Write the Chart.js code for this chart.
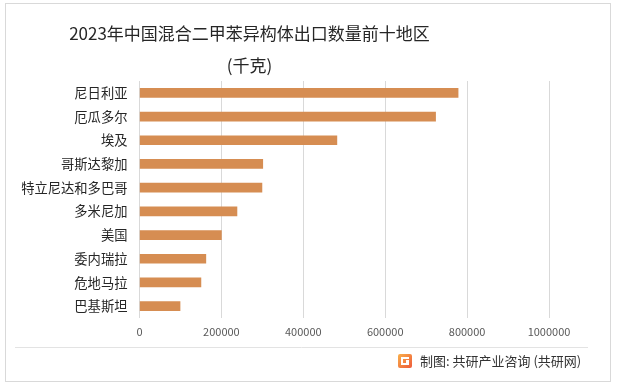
<!DOCTYPE html>
<html>
<head>
<meta charset="utf-8">
<script src="https://cdn.jsdelivr.net/npm/chart.js@4"></script>
<style>
  html, body { margin: 0; padding: 0; background: #fff; }
  #wrap { position: relative; width: 618px; height: 387px; }
</style>
</head>
<body>
<div id="wrap"><canvas id="myChart" width="618" height="387"></canvas></div>
<script>
const regions = ['尼日利亚', '厄瓜多尔', '埃及', '哥斯达黎加', '特立尼达和多巴哥', '多米尼加', '美国', '委内瑞拉', '危地马拉', '巴基斯坦'];
const exportKg = [778000, 723000, 482000, 301000, 299000, 238000, 200000, 162000, 150000, 99000];
const xTicks = [0, 200000, 400000, 600000, 800000, 1000000];

const titleText = '2023年中国混合二甲苯异构体出口数量前十地区';
const unitText = '(千克)';
const sourceText = '制图: 共研产业咨询 (共研网)';

const barColor = '#D68D52';
const gridColor = '#d9d9d9';
const cjkFont = '"Noto Sans CJK SC", "Noto Sans", sans-serif';

// frame, title and footer drawn around the chart
const decorations = {
  id: 'decorations',
  beforeDraw(chart) {
    const c = chart.ctx;
    c.save();
    c.fillStyle = '#fff';
    c.fillRect(0, 0, chart.width, chart.height);
    c.strokeStyle = '#d9d9d9';
    c.lineWidth = 1;
    c.strokeRect(5.5, 3.5, 605, 378);
    c.restore();
  },
  afterDraw(chart) {
    const c = chart.ctx;
    c.save();
    c.fillStyle = '#262626';
    c.textAlign = 'center';
    c.textBaseline = 'middle';
    c.font = '17px ' + cjkFont;
    c.fillText(titleText, 249.5, 34);
    c.fillText(unitText, 249.5, 66);

    // footer line
    c.strokeStyle = '#e3e3e3';
    c.beginPath();
    c.moveTo(15, 347.5);
    c.lineTo(588, 347.5);
    c.stroke();

    // logo
    const g = c.createLinearGradient(398, 354, 412, 368);
    g.addColorStop(0, '#f9b04a');
    g.addColorStop(1, '#ee5a3a');
    c.fillStyle = g;
    c.beginPath();
    c.roundRect(398, 354, 14, 14, 2);
    c.fill();
    c.fillStyle = '#fff';
    c.fillRect(401, 357, 8, 2);
    c.fillRect(401, 357, 2, 8);
    c.fillRect(401, 363, 8, 2);
    c.fillRect(406, 360, 3, 3);

    c.fillStyle = '#333';
    c.textAlign = 'left';
    c.font = '13px ' + cjkFont;
    c.fillText(sourceText, 420, 361.5);
    c.restore();
  }
};

const ctx = document.getElementById('myChart');
new Chart(ctx, {
  type: 'bar',
  data: {
    labels: regions,
    datasets: [{
      data: exportKg,
      backgroundColor: barColor,
      barThickness: 9,
    }],
  },
  options: {
    indexAxis: 'y',
    responsive: false,
    animation: false,
    layout: { padding: { top: 81, right: 69, bottom: 39, left: 0 } },
    plugins: {
      legend: { display: false },
      tooltip: { enabled: false },
    },
    scales: {
      x: {
        min: 0,
        max: 1000000,
        afterBuildTicks(scale) {
          scale.ticks = xTicks.map(v => ({ value: v }));
        },
        afterFit(scale) { scale.height = 30; },
        grid: { color: gridColor, drawTicks: false },
        border: { display: false },
        ticks: {
          color: '#595959',
          padding: 7,
          font: { size: 11, family: cjkFont },
          callback: v => String(v),
        },
      },
      y: {
        afterFit(scale) { scale.width = 139.5; },
        grid: { display: false, drawTicks: false },
        border: { display: false },
        ticks: {
          color: '#262626',
          padding: 12,
          font: { size: 13.3, family: cjkFont },
        },
      },
    },
  },
  plugins: [decorations],
});
</script>
</body>
</html>
